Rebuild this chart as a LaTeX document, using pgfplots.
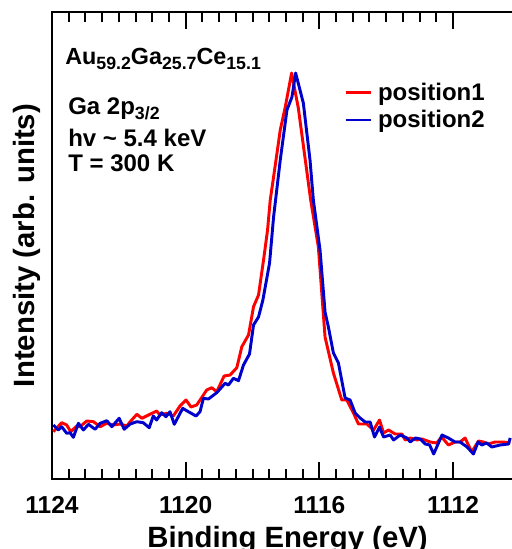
\documentclass[border=0pt]{standalone}
\usepackage{pgfplots}
\pgfplotsset{compat=1.18}
\usepackage{fontspec}
\setmainfont{Liberation Sans}
\definecolor{posred}{RGB}{255,0,0}
\definecolor{posblue}{RGB}{0,0,205}
\newcommand{\sub}[1]{\raisebox{-0.35ex}{\fontsize{13.3}{13.3}\selectfont #1}}
\begin{document}
\begin{tikzpicture}
\begin{axis}[
  name=main,
  scale only axis,
  width=353.25pt, height=350.25pt,
  x dir=reverse,
  xmin=1109.907, xmax=1124,
  ymin=0, ymax=467,
  xtick={1112,1116,1120,1124},
  minor x tick num=7,
  ytick=\empty,
  tick align=inside,
  major tick length=12.75pt,
  minor tick length=7.5pt,
  every tick/.style={black, line width=1.5pt},
  axis line style={line width=2pt},
  /pgf/number format/.cd, set thousands separator={}, assume math mode=true,
  /pgfplots/.cd,
  xticklabel style={font=\fontsize{18.4}{18.4}\selectfont\bfseries, anchor=base, yshift=-25.5pt},
  xlabel={Binding Energy (eV)},
  ylabel={Intensity (arb. units)},
  label style={font=\fontsize{22}{22}\selectfont\bfseries},
  xlabel style={at={(axis description cs:0.5,0)}, anchor=base, yshift=-51pt},
  ylabel style={at={(axis description cs:0,0.5)}, anchor=base, yshift=12.75pt},
  legend style={at={(axis cs:1115.26,399)}, anchor=north west, draw=none, fill=none,
    inner sep=0pt, outer sep=0pt, row sep=2.2pt,
    font=\fontsize{18}{18}\selectfont\bfseries,
    /tikz/every odd column/.append style={column sep=2.5pt}},
  legend cell align=left,
  legend image code/.code={\draw[#1] (0pt,0pt) -- (18.75pt,0pt);},
  every axis plot/.append style={line width=2.2pt, line join=round},
]
\addplot[color=posred] coordinates {
(1123.96,47.3) (1123.71,56.3) (1123.56,54) (1123.44,47.3) (1123.26,53) (1123.16,52.3)
(1122.96,58) (1122.76,57.3) (1122.56,52.3) (1122.36,55.7) (1122.17,54) (1121.96,55)
(1121.76,53) (1121.66,57.3) (1121.46,64.7) (1121.31,60.7) (1121.07,64.7) (1120.87,68)
(1120.77,64) (1120.57,65.7) (1120.37,63) (1120.17,73) (1119.99,79) (1119.84,72)
(1119.67,74) (1119.37,89) (1119.22,91.3) (1119.07,87.3) (1118.85,103) (1118.67,104)
(1118.47,111.3) (1118.32,132.3) (1118.12,144) (1117.97,172.3) (1117.82,184) (1117.67,219)
(1117.55,249) (1117.47,279) (1117.37,302) (1117.17,349) (1117.02,372) (1116.83,406)
(1116.63,371) (1116.26,279) (1116.03,232) (1115.83,142) (1115.58,106) (1115.33,79)
(1115.18,79) (1114.98,66) (1114.83,55) (1114.58,55) (1114.38,49) (1114.20,59)
(1114.08,46) (1113.93,49) (1113.73,45) (1113.53,45) (1113.43,39) (1113.28,41)
(1113.08,39) (1112.93,40) (1112.68,37) (1112.49,36) (1112.34,42) (1112.14,34)
(1111.94,37) (1111.79,37) (1111.64,41) (1111.44,27) (1111.24,38) (1111.09,37)
(1110.94,35) (1110.74,37) (1110.49,37) (1110.29,36)
};
\addlegendentry{position1}
\addplot[color=posblue] coordinates {
(1123.96,54) (1123.81,49) (1123.71,52.3) (1123.56,45.7) (1123.46,46.3) (1123.36,41.7)
(1123.21,55.7) (1123.06,49) (1122.91,54.7) (1122.71,49.7) (1122.56,55.7) (1122.36,58.3)
(1122.21,52.3) (1121.99,60.7) (1121.84,49.7) (1121.66,55) (1121.46,57.3) (1121.27,56.3)
(1121.09,51.3) (1120.97,63) (1120.87,59) (1120.72,66.3) (1120.59,62.3) (1120.47,67.3)
(1120.34,54.7) (1120.09,70.7) (1119.92,67.3) (1119.69,63) (1119.57,67.3) (1119.47,80.7)
(1119.32,80) (1119.07,86.3) (1118.82,95.7) (1118.72,94) (1118.57,100.7) (1118.42,98.3)
(1118.27,114) (1118.09,125) (1117.97,154) (1117.82,162) (1117.69,179) (1117.49,216)
(1117.37,262) (1117.17,319) (1116.97,369) (1116.82,382) (1116.71,406) (1116.48,376)
(1116.28,319) (1116.18,279) (1115.98,229) (1115.83,167) (1115.73,152) (1115.58,126)
(1115.43,116) (1115.23,81) (1115.08,79) (1114.93,66) (1114.78,61) (1114.63,57)
(1114.48,57) (1114.35,42) (1114.20,52) (1114.08,42) (1113.88,44) (1113.78,39)
(1113.58,44) (1113.38,41) (1113.28,37) (1113.13,41) (1112.98,40) (1112.83,35)
(1112.70,34) (1112.58,25) (1112.33,44) (1112.14,41) (1111.94,37) (1111.79,37)
(1111.58,32) (1111.39,25) (1111.25,37) (1111.14,34) (1110.99,36) (1110.84,32)
(1110.59,34) (1110.34,35) (1110.29,41)
};
\addlegendentry{position2}
\node[anchor=base west, inner sep=0pt, font=\fontsize{17.5}{17.5}\selectfont\bfseries]
  at (axis cs:1123.61,414) {Au\sub{59.2}Ga\sub{25.7}Ce\sub{15.1}};
\node[anchor=base west, inner sep=0pt, font=\fontsize{18}{18}\selectfont\bfseries]
  at (axis cs:1123.52,364) {Ga 2p\sub{3/2}};
\node[anchor=base west, inner sep=0pt, font=\fontsize{18}{18}\selectfont\bfseries]
  at (axis cs:1123.52,332) {hv \textasciitilde{} 5.4 keV};
\node[anchor=base west, inner sep=0pt, font=\fontsize{18}{18}\selectfont\bfseries]
  at (axis cs:1123.52,307) {T = 300 K};
\end{axis}
\pgfresetboundingbox
\path[use as bounding box] ([xshift=-39pt,yshift=-52.5pt]main.south west) rectangle ([xshift=-9pt,yshift=9pt]main.north east);
\end{tikzpicture}
\end{document}
